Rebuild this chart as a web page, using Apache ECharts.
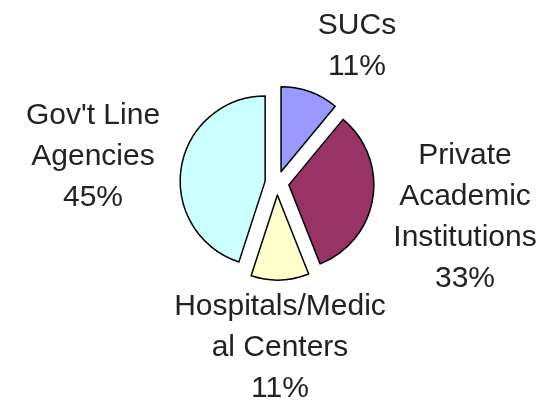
<!DOCTYPE html>
<html>
<head>
<meta charset="utf-8">
<script src="https://cdn.jsdelivr.net/npm/echarts@6/dist/echarts.min.js"></script>
<style>html,body{margin:0;padding:0;background:#fff;}#c{width:546px;height:400px;}</style>
</head>
<body>
<div id="c"></div>
<script>
const categories = ["SUCs", "Private\nAcademic\nInstitutions", "Hospitals/Medic\nal Centers", "Gov't Line\nAgencies"];
const values = [11, 33, 11, 45];
const colors = ["#9999FF", "#993366", "#FFFFCC", "#CCFFFF"];
const labelCenters = [[357, 46], [465, 217], [280, 348], [93, 157]];

const center = [277, 183];
const radius = 85;

const chart = echarts.init(document.getElementById('c'), null, {renderer: 'canvas'});
chart.setOption({
  animation: false,
  series: [{
    type: 'pie',
    center: center,
    radius: [0, radius],
    startAngle: 90,
    clockwise: true,
    selectedMode: 'multiple',
    selectedOffset: 12,
    silent: true,
    emphasis: {disabled: true},
    itemStyle: {borderColor: '#000', borderWidth: 1.5},
    label: {show: false},
    labelLine: {show: false},
    data: categories.map((c, i) => ({
      name: c,
      value: values[i],
      selected: true,
      itemStyle: {color: colors[i]}
    }))
  }, {
    type: 'pie',
    center: center,
    radius: [0, radius],
    startAngle: 90,
    clockwise: true,
    selectedMode: false,
    silent: true,
    emphasis: {disabled: true},
    itemStyle: {color: 'rgba(0,0,0,0)', borderWidth: 0},
    label: {
      show: true,
      position: 'inside',
      fontFamily: 'Liberation Sans, Arial, sans-serif',
      fontSize: 30,
      lineHeight: 41,
      color: '#222',
      textBorderWidth: 0,
      align: 'center',
      verticalAlign: 'middle',
      formatter: p => p.name + '\n' + values[p.dataIndex] + '%'
    },
    labelLine: {show: false},
    labelLayout: p => ({
      x: labelCenters[p.dataIndex][0],
      y: labelCenters[p.dataIndex][1],
      align: 'center',
      verticalAlign: 'middle'
    }),
    data: categories.map((c, i) => ({name: c, value: values[i]}))
  }]
});
</script>
</body>
</html>
